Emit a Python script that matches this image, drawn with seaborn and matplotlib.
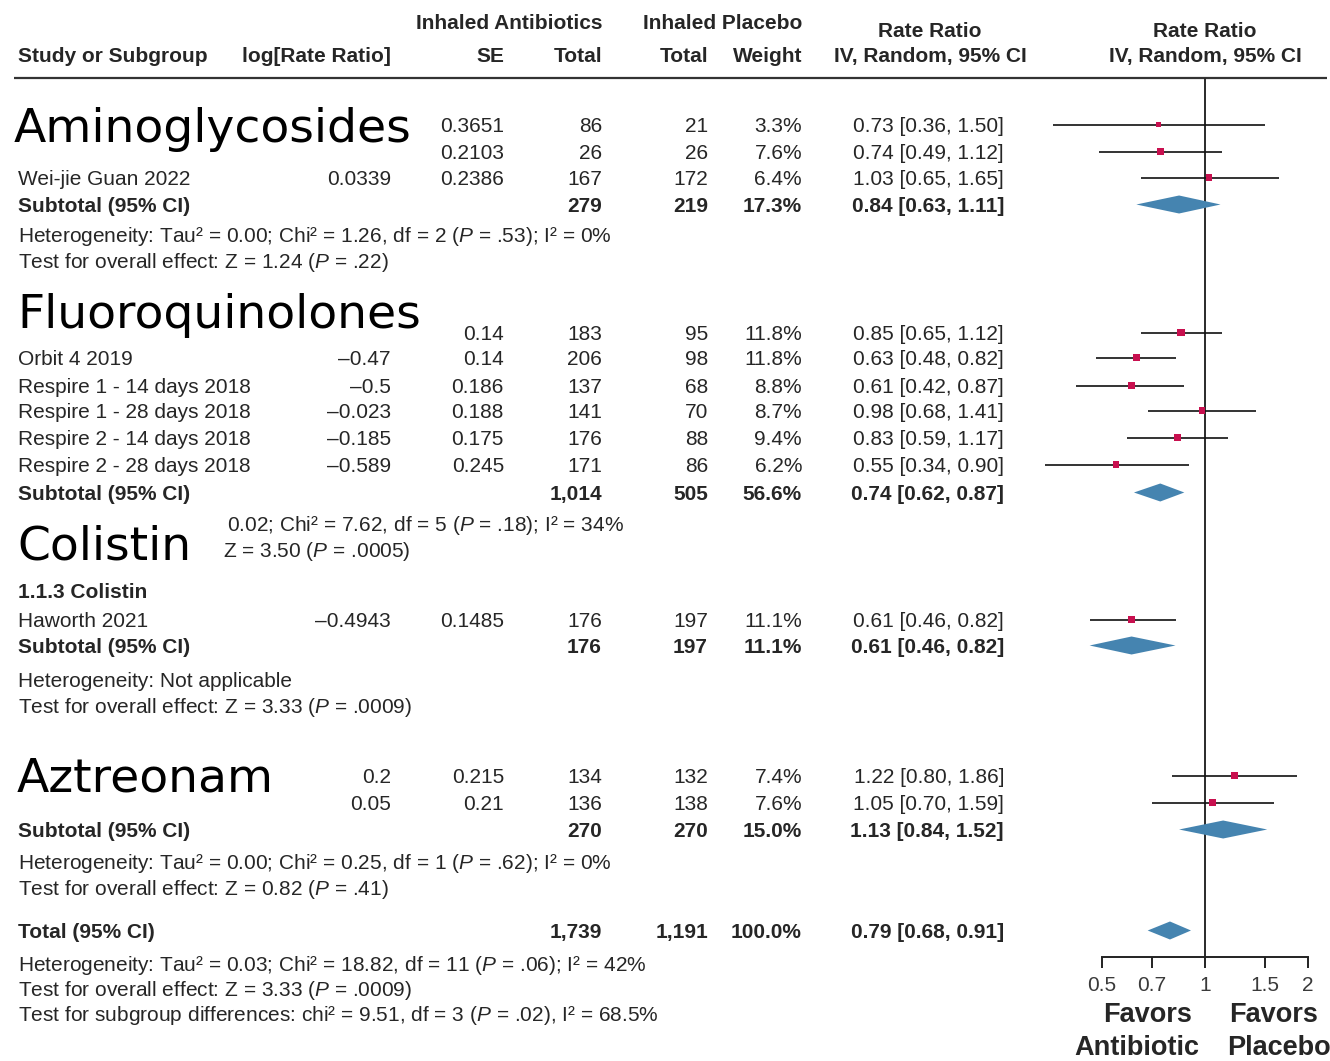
import matplotlib
matplotlib.use("Agg")
import matplotlib.pyplot as plt
from matplotlib.ticker import NullLocator, FixedLocator, FixedFormatter
import seaborn as sns

# ---- data ----
groups = ["Aminoglycosides", "Fluoroquinolones", "Colistin", "Aztreonam"]

# per study (names / log values hidden under the big labels are left empty)
study = ["", "", "Wei-jie Guan 2022",
         "", "Orbit 4 2019", "Respire 1 - 14 days 2018", "Respire 1 - 28 days 2018",
         "Respire 2 - 14 days 2018", "Respire 2 - 28 days 2018",
         "Haworth 2021",
         "", ""]
study_group = [0, 0, 0, 1, 1, 1, 1, 1, 1, 2, 3, 3]
log_rr = ["", "", "0.0339", "", "\u20130.47", "\u20130.5", "\u20130.023", "\u20130.185",
          "\u20130.589", "\u20130.4943", "0.2", "0.05"]
se = ["0.3651", "0.2103", "0.2386", "0.14", "0.14", "0.186", "0.188", "0.175",
      "0.245", "0.1485", "0.215", "0.21"]
n_abx = [86, 26, 167, 183, 206, 137, 141, 176, 171, 176, 134, 136]
n_pbo = [21, 26, 172, 95, 98, 68, 70, 88, 86, 197, 132, 138]
weight = [3.3, 7.6, 6.4, 11.8, 11.8, 8.8, 8.7, 9.4, 6.2, 11.1, 7.4, 7.6]
rr = [0.73, 0.74, 1.03, 0.85, 0.63, 0.61, 0.98, 0.83, 0.55, 0.61, 1.22, 1.05]
ci_lo = [0.36, 0.49, 0.65, 0.65, 0.48, 0.42, 0.68, 0.59, 0.34, 0.46, 0.80, 0.70]
ci_hi = [1.50, 1.12, 1.65, 1.12, 0.82, 0.87, 1.41, 1.17, 0.90, 0.82, 1.86, 1.59]

# subtotals per group, then overall total
sub_n_abx = [279, 1014, 176, 270]
sub_n_pbo = [219, 505, 197, 270]
sub_weight = [17.3, 56.6, 11.1, 15.0]
sub_rr = [0.84, 0.74, 0.61, 1.13]
sub_lo = [0.63, 0.62, 0.46, 0.84]
sub_hi = [1.11, 0.87, 0.82, 1.52]
total_n_abx, total_n_pbo, total_weight = 1739, 1191, 100.0
total_rr, total_lo, total_hi = 0.79, 0.68, 0.91

P = r"$\mathit{P}$"
het_lines = [
    "Heterogeneity: Tau\u00b2 = 0.00; Chi\u00b2 = 1.26, df = 2 (" + P + " = .53); I\u00b2 = 0%",
    "0.02; Chi\u00b2 = 7.62, df = 5 (" + P + " = .18); I\u00b2 = 34%",
    "Heterogeneity: Not applicable",
    "Heterogeneity: Tau\u00b2 = 0.00; Chi\u00b2 = 0.25, df = 1 (" + P + " = .62); I\u00b2 = 0%",
]
test_lines = [
    "Test for overall effect: Z = 1.24 (" + P + " = .22)",
    "Z = 3.50 (" + P + " = .0005)",
    "Test for overall effect: Z = 3.33 (" + P + " = .0009)",
    "Test for overall effect: Z = 0.82 (" + P + " = .41)",
]
total_lines = [
    "Heterogeneity: Tau\u00b2 = 0.03; Chi\u00b2 = 18.82, df = 11 (" + P + " = .06); I\u00b2 = 42%",
    "Test for overall effect: Z = 3.33 (" + P + " = .0009)",
    "Test for subgroup differences: chi\u00b2 = 9.51, df = 3 (" + P + " = .02), I\u00b2 = 68.5%",
]
ticks = [0.5, 0.7, 1, 1.5, 2]
tick_labels = ["0.5", "0.7", "1", "1.5", "2"]

# ---- layout (pixel baselines of the table rows) ----
study_base = [132, 159, 185, 340, 365, 393, 418, 445, 472, 627, 783, 810]
sub_base = [212, 500, 653, 837]
het_base = [242, 531, 687, 869]
het_x = [18, 227, 18, 18]
test_base = [268, 557, 713, 895]
test_x = [18, 223, 18, 18]
label_base = [142, 328, 559, 792]
label_x = [14, 17, 17, 17]
total_base = 938
total_stat_base = [971, 996, 1021]
col_logrr, col_se, col_abx, col_pbo, col_w, col_ci = 391, 504, 602, 708, 802, 1004

ink = "#262626"
square_col = "#C8104F"
diamond_col = "#4584B0"

sns.set_theme(style="white")
plt.rcParams["font.family"] = ["Liberation Sans", "DejaVu Sans"]
plt.rcParams["mathtext.fontset"] = "custom"
plt.rcParams["mathtext.rm"] = "Liberation Sans"
plt.rcParams["mathtext.it"] = "Liberation Sans:italic"
plt.rcParams["mathtext.bf"] = "Liberation Sans:bold"

W, H = 1330, 1061
fig = plt.figure(figsize=(W / 100, H / 100), dpi=100)
fig.patch.set_facecolor("white")

# text layer in pixel coordinates
ax_t = fig.add_axes([0, 0, 1, 1])
ax_t.set_xlim(0, W)
ax_t.set_ylim(H, 0)
ax_t.axis("off")


def txt(x, y, s, ha="left", bold=False, size=15, color=ink):
    ax_t.text(x, y, s, ha=ha, va="baseline", fontsize=size, color=color,
              fontweight="bold" if bold else "normal")


# header
txt(col_abx, 29, "Inhaled Antibiotics", "right", True)
txt(col_w, 29, "Inhaled Placebo", "right", True)
txt(930, 37, "Rate Ratio", "center", True)
txt(1205, 37, "Rate Ratio", "center", True)
txt(18, 62, "Study or Subgroup", bold=True)
txt(col_logrr, 62, "log[Rate Ratio]", "right", True)
txt(col_se, 62, "SE", "right", True)
txt(col_abx, 62, "Total", "right", True)
txt(col_pbo, 62, "Total", "right", True)
txt(col_w, 62, "Weight", "right", True)
txt(1027, 62, "IV, Random, 95% CI", "right", True)
txt(1205, 62, "IV, Random, 95% CI", "center", True)
ax_t.plot([14, 1327], [78, 78], color="#333333", lw=1.6, solid_capstyle="butt")

# study rows
for i in range(len(study)):
    y = study_base[i]
    if study[i]:
        txt(18, y, study[i])
    if log_rr[i]:
        txt(col_logrr, y, log_rr[i], "right")
    txt(col_se, y, se[i], "right")
    txt(col_abx, y, f"{n_abx[i]:,}", "right")
    txt(col_pbo, y, f"{n_pbo[i]:,}", "right")
    txt(col_w, y, f"{weight[i]:.1f}%", "right")
    txt(col_ci, y, f"{rr[i]:.2f} [{ci_lo[i]:.2f}, {ci_hi[i]:.2f}]", "right")

# subtotal rows and subgroup statistics
for g in range(len(groups)):
    y = sub_base[g]
    txt(18, y, "Subtotal (95% CI)", bold=True)
    txt(col_abx, y, f"{sub_n_abx[g]:,}", "right", True)
    txt(col_pbo, y, f"{sub_n_pbo[g]:,}", "right", True)
    txt(col_w, y, f"{sub_weight[g]:.1f}%", "right", True)
    txt(col_ci, y, f"{sub_rr[g]:.2f} [{sub_lo[g]:.2f}, {sub_hi[g]:.2f}]", "right", True)
    txt(het_x[g], het_base[g], het_lines[g])
    txt(test_x[g], test_base[g], test_lines[g])

txt(18, 598, "1.1.3 Colistin", bold=True)

# overall total
txt(18, total_base, "Total (95% CI)", bold=True)
txt(col_abx, total_base, f"{total_n_abx:,}", "right", True)
txt(col_pbo, total_base, f"{total_n_pbo:,}", "right", True)
txt(col_w, total_base, f"{total_weight:.1f}%", "right", True)
txt(col_ci, total_base, f"{total_rr:.2f} [{total_lo:.2f}, {total_hi:.2f}]", "right", True)
for s, y in zip(total_lines, total_stat_base):
    txt(18, y, s)

# big group labels laid over the table
for g, name in enumerate(groups):
    ax_t.text(label_x[g], label_base[g], name, ha="left", va="baseline",
              fontsize=34, color="black", family="DejaVu Sans")

# favours labels
txt(1148, 1022, "Favors", "center", True, 19.5)
txt(1137, 1055, "Antibiotic", "center", True, 19.5)
txt(1274, 1022, "Favors", "center", True, 19.5)
txt(1279, 1055, "Placebo", "center", True, 19.5)

# ---- forest panel ----
x0, x1 = 1102, 1308
y_top, y_axis = 78, 957
ax_f = fig.add_axes([x0 / W, 1 - y_axis / H, (x1 - x0) / W, (y_axis - y_top) / H])
ax_f.set_facecolor("none")
ax_f.set_xscale("log")
ax_f.set_xlim(0.5, 2)
ax_f.set_ylim(y_axis, y_top)

study_y = [b - 7.5 for b in study_base]
sub_y = [b - 7.5 for b in sub_base]
total_y = total_base - 7.5

ax_f.axvline(1, color="#2a2a2a", lw=1.4, zorder=1)
ax_f.hlines(study_y, ci_lo, ci_hi, color="#111111", lw=1.2, zorder=2, clip_on=False)
sns.scatterplot(x=rr, y=study_y, size=weight, sizes=(14, 30), size_norm=(3.3, 11.8),
                marker="s", color=square_col, linewidth=0, legend=False, zorder=3,
                ax=ax_f)

half_h = 9
for g in range(len(groups)):
    ax_f.fill([sub_lo[g], sub_rr[g], sub_hi[g], sub_rr[g]],
              [sub_y[g], sub_y[g] - half_h, sub_y[g], sub_y[g] + half_h],
              color=diamond_col, lw=0, zorder=3, clip_on=False)
ax_f.fill([total_lo, total_rr, total_hi, total_rr],
          [total_y, total_y - half_h, total_y, total_y + half_h],
          color=diamond_col, lw=0, zorder=3, clip_on=False)

for side in ["top", "right", "left"]:
    ax_f.spines[side].set_visible(False)
ax_f.spines["bottom"].set_color("#222222")
ax_f.spines["bottom"].set_linewidth(1.4)
ax_f.xaxis.set_major_locator(FixedLocator(ticks))
ax_f.xaxis.set_major_formatter(FixedFormatter(tick_labels))
ax_f.xaxis.set_minor_locator(NullLocator())
ax_f.tick_params(axis="x", direction="out", length=8, width=1.4, color="#222222",
                 labelsize=15, labelcolor="#3a3a3a", pad=6, bottom=True)
ax_f.set_yticks([])
ax_f.set_xlabel("")
ax_f.set_ylabel("")

fig.savefig("out.png", dpi=100, facecolor="white")
